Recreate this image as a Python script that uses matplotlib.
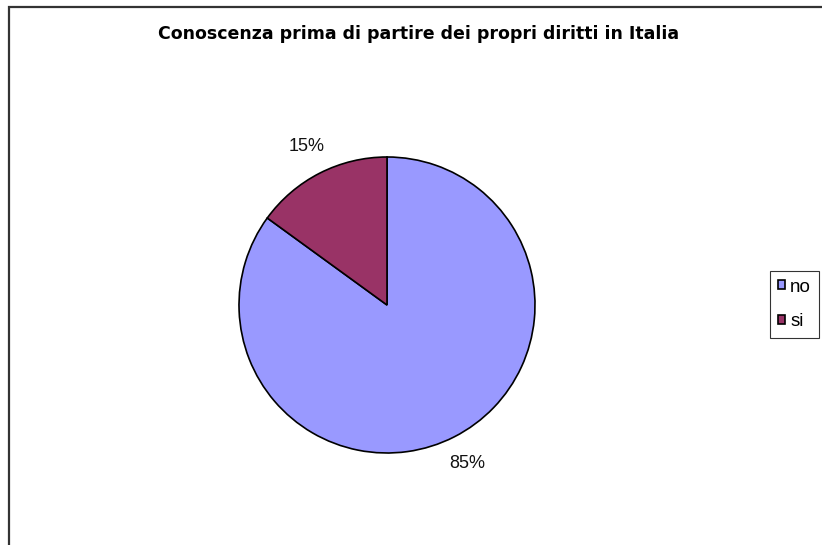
import matplotlib
matplotlib.use("Agg")
import matplotlib.pyplot as plt
from matplotlib.patches import Rectangle

#####################################
# Chart data
#####################################

title = "Conoscenza prima di partire dei propri diritti in Italia"
labels = ["no", "si"]
values = [85, 15]
colors = ["#9999FF", "#993366"]

#####################################
# Figure setup
#####################################

plt.rcParams["font.family"] = ["Liberation Sans", "DejaVu Sans"]

W, H = 822, 545
fig = plt.figure(figsize=(W / 100, H / 100), dpi=100)
fig.patch.set_facecolor("white")

# outer chart border (runs off the right/bottom edge)
fig.add_artist(Rectangle((9 / W, -0.05), 1.0, 1 - 7 / H + 0.05,
                         transform=fig.transFigure, fill=False,
                         edgecolor="#333333", linewidth=1.6))

# pie axes: centre (387, 305) px, radius 148 px
cx, cy, r = 387, 305, 148
ax = fig.add_axes([(cx - r) / W, (H - cy - r) / H, 2 * r / W, 2 * r / H])

wedges, texts, autotexts = ax.pie(
    values,
    colors=colors,
    startangle=90,
    counterclock=False,
    autopct="%1.0f%%",
    pctdistance=1.2,
    wedgeprops={"edgecolor": "black", "linewidth": 1.2},
    textprops={"fontsize": 13, "color": "#111111"},
)
ax.set_xlim(-1, 1)
ax.set_ylim(-1, 1)
ax.set_aspect("equal")
ax.axis("off")

# wide bold title
fig.text(419 / W, 1 - 34 / H, title, ha="center", va="center",
         fontsize=12.5, fontweight="bold", family="DejaVu Sans")

leg = fig.legend(wedges, labels, loc="upper left",
                 bbox_to_anchor=(770 / W, 1 - 271 / H),
                 frameon=True, fancybox=False, fontsize=13.5,
                 handlelength=0.38, handleheight=0.38, handletextpad=0.3,
                 labelspacing=0.95, borderpad=0.4, borderaxespad=0)
leg.get_frame().set_edgecolor("black")
leg.get_frame().set_linewidth(0.8)

fig.savefig("out.png", dpi=100)
